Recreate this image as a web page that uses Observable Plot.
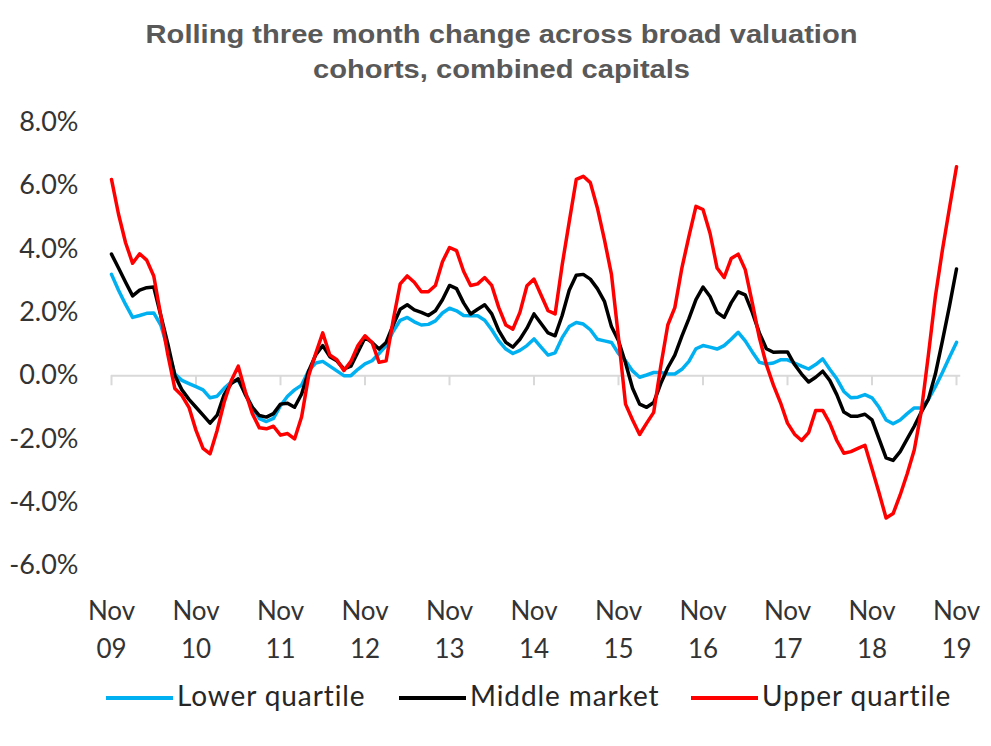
<!DOCTYPE html>
<html><head><meta charset="utf-8">
<script src="https://cdn.jsdelivr.net/npm/d3@7"></script>
<script src="https://cdn.jsdelivr.net/npm/@observablehq/plot@0.6"></script>
<style>
body{margin:0;background:#fff;width:991px;height:746px;overflow:hidden;font-family:Lato,"Open Sans",sans-serif;position:relative}
#title{height:95px;box-sizing:border-box;padding-top:17px;text-align:center;font:bold 26px/35px "Liberation Sans",Arial,sans-serif;color:#595959;transform:translateX(6px) scaleX(1.12);transform-origin:495px 0}
#chart svg{display:block}
#legend{position:absolute;left:0;top:672px;width:991px;height:46px;font:28px/46px Lato,"Open Sans",sans-serif;color:#262626;letter-spacing:0.9px}
.item{position:absolute;top:0;white-space:nowrap}
.sw{display:inline-block;width:67px;height:4px;vertical-align:middle;margin-right:4px;position:relative;top:-1px}
</style></head><body>
<div id="title">Rolling three month change across broad valuation<br>cohorts, combined capitals</div>
<div id="chart"></div>
<div id="legend"></div>
<script>
const seriesNames = ["Lower quartile", "Middle market", "Upper quartile"];
const seriesColors = ["#00B0F0", "#000000", "#FF0000"];
const yearLabels = ["09","10","11","12","13","14","15","16","17","18","19"];
const yTicks = [-6, -4, -2, 0, 2, 4, 6, 8];

const lowerQuartile = [
 3.2, 2.7, 2.25, 1.84, 1.9, 1.97, 1.98, 1.6, 0.85, 0.05,
 -0.15, -0.25, -0.35, -0.45, -0.7, -0.65, -0.4, -0.2, -0.15, -0.55,
 -1.0, -1.36, -1.45, -1.35, -0.95, -0.65, -0.45, -0.3, 0.16, 0.4,
 0.45, 0.3, 0.15, 0.0, 0.0, 0.2, 0.37, 0.47, 0.7, 0.95,
 1.4, 1.75, 1.84, 1.7, 1.6, 1.62, 1.73, 1.98, 2.13, 2.05,
 1.9, 1.89, 1.89, 1.75, 1.45, 1.1, 0.84, 0.7, 0.8, 0.95,
 1.16, 0.9, 0.65, 0.72, 1.2, 1.55, 1.68, 1.63, 1.45, 1.15,
 1.1, 1.05, 0.7, 0.47, 0.15, -0.05, 0.02, 0.1, 0.1, 0.05,
 0.05, 0.2, 0.45, 0.85, 0.95, 0.9, 0.84, 0.95, 1.15, 1.37,
 1.1, 0.75, 0.42, 0.37, 0.4, 0.5, 0.5, 0.4, 0.3, 0.21,
 0.35, 0.53, 0.2, -0.1, -0.5, -0.7, -0.68, -0.6, -0.7, -1.0,
 -1.4, -1.52, -1.4, -1.2, -1.02, -1.02, -0.75, -0.35, 0.1, 0.58,
 1.05];
const middleMarket = [
 3.84, 3.4, 2.95, 2.52, 2.7, 2.78, 2.8, 1.9, 1.0, 0.0,
 -0.45, -0.75, -1.0, -1.25, -1.5, -1.25, -0.6, -0.25, -0.1, -0.6,
 -1.0, -1.26, -1.31, -1.2, -0.9, -0.87, -1.0, -0.58, 0.15, 0.65,
 0.95, 0.6, 0.47, 0.21, 0.3, 0.75, 1.2, 1.05, 0.84, 1.05,
 1.6, 2.1, 2.24, 2.08, 2.0, 1.9, 2.05, 2.4, 2.85, 2.75,
 2.3, 1.95, 2.1, 2.24, 1.95, 1.42, 1.05, 0.9, 1.15, 1.5,
 1.95, 1.65, 1.35, 1.26, 1.9, 2.7, 3.17, 3.2, 3.05, 2.75,
 2.35, 1.55, 1.1, 0.4, -0.4, -0.9, -1.0, -0.85, -0.25, 0.25,
 0.65, 1.25, 1.8, 2.4, 2.8, 2.5, 2.0, 1.84, 2.3, 2.65,
 2.55, 2.0, 1.35, 0.85, 0.74, 0.75, 0.75, 0.35, 0.05, -0.2,
 -0.05, 0.14, -0.15, -0.6, -1.15, -1.28, -1.28, -1.22, -1.4, -2.0,
 -2.6, -2.68, -2.4, -2.0, -1.6, -1.15, -0.75, 0.05, 1.1, 2.2,
 3.37];
const upperQuartile = [
 6.2, 5.1, 4.2, 3.55, 3.85, 3.65, 3.15, 1.9, 0.66, -0.41,
 -0.63, -1.0, -1.73, -2.3, -2.47, -1.73, -0.84, -0.16, 0.3, -0.5,
 -1.2, -1.65, -1.68, -1.6, -1.88, -1.83, -2.0, -1.3, 0.0, 0.7,
 1.35, 0.65, 0.5, 0.16, 0.45, 0.95, 1.26, 1.05, 0.42, 0.47,
 1.75, 2.9, 3.15, 2.95, 2.65, 2.65, 2.85, 3.6, 4.05, 3.95,
 3.3, 2.85, 2.9, 3.1, 2.85, 2.15, 1.6, 1.47, 2.0, 2.84,
 3.05, 2.55, 2.05, 1.95, 3.5, 4.86, 6.2, 6.3, 6.1, 5.3,
 4.3, 3.2, 1.2, -0.9, -1.4, -1.86, -1.5, -1.16, 0.3, 1.6,
 2.15, 3.4, 4.4, 5.35, 5.25, 4.5, 3.4, 3.1, 3.7, 3.84,
 3.35, 2.3, 1.2, 0.35, -0.3, -0.85, -1.5, -1.85, -2.05, -1.8,
 -1.1, -1.1, -1.5, -2.05, -2.45, -2.4, -2.3, -2.2, -2.94, -3.7,
 -4.5, -4.36, -3.77, -3.1, -2.35, -1.13, 0.64, 2.5, 3.97, 5.3,
 6.6];

const allSeries = [lowerQuartile, middleMarket, upperQuartile];
const rows = [];
allSeries.forEach((vals, s) => vals.forEach((v, i) => rows.push({i, v, name: seriesNames[s]})));
const yearTicks = yearLabels.map((_, k) => k * 12);

const chart = Plot.plot({
  width: 991, height: 600,
  marginLeft: 111, marginRight: 35, marginTop: 27, marginBottom: 130,
  x: {domain: [0, 120]},
  y: {domain: [-6, 8]},
  color: {domain: seriesNames, range: seriesColors},
  style: {fontFamily: "Lato, 'Open Sans', sans-serif", fontSize: "26px", color: "#333333", background: "white"},
  marks: [
    Plot.axisY({ticks: yTicks, tickFormat: d => d.toFixed(1) + "%", tickSize: 0, tickPadding: 33, label: null, fontSize: 27}),
    Plot.axisX({ticks: yearTicks, tickFormat: d => "Nov\n" + yearLabels[d / 12], tickSize: 0, tickPadding: 28, label: null, fontSize: 26, lineHeight: 1.45}),
    Plot.ruleY([0], {x1: 0, x2: 120.6, stroke: "#d9d9d9", strokeWidth: 2}),
    Plot.ruleX(yearTicks, {x: d => d, y1: 0, y2: -0.32, stroke: "#d9d9d9", strokeWidth: 2}),
    Plot.line(rows, {x: "i", y: "v", z: "name", stroke: "name", strokeWidth: 3.5, strokeLinejoin: "round"})
  ]
});
document.getElementById("chart").appendChild(chart);

const legendLeft = [106, 399, 691];
const legend = document.getElementById("legend");
seriesNames.forEach((n, k) => {
  const it = document.createElement("div");
  it.className = "item";
  it.style.left = legendLeft[k] + "px";
  it.innerHTML = `<span class="sw" style="background:${seriesColors[k]}"></span>${n}`;
  legend.appendChild(it);
});
</script>
</body></html>
